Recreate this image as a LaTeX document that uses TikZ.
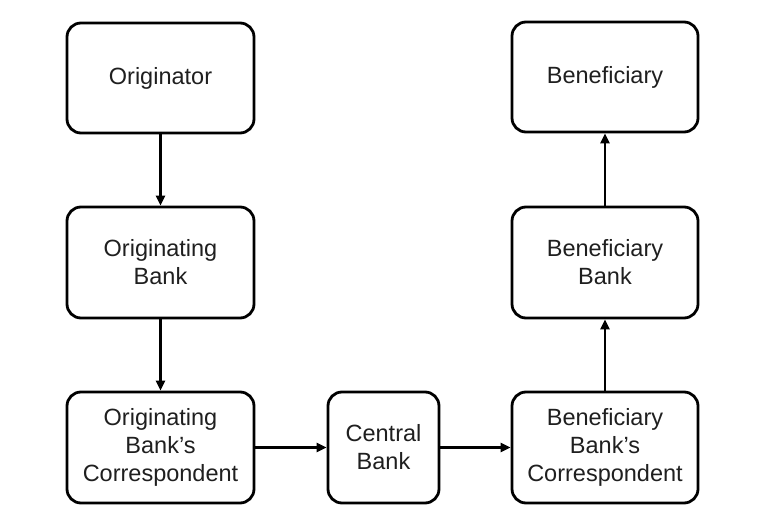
\documentclass[tikz,border=0pt]{standalone}
\usepackage{fontspec}
\setmainfont{Liberation Sans}
\usetikzlibrary{arrows.meta}
\begin{document}
\begin{tikzpicture}[x=1pt,y=1pt,
  box/.style={draw=black,line width=2.8pt,rounded corners=14pt,align=center,
    text=black!88,font=\fontsize{23.5}{28}\selectfont,inner sep=0pt},
  conn/.style={line width=2.4pt,-{Triangle[length=10pt,width=9pt]}}]
\useasboundingbox (0,0) rectangle (776,528);
\node[box,minimum width=187pt,minimum height=110pt] (orig) at (160.5,450) {Originator};
\node[box,minimum width=187pt,minimum height=111pt] (ob) at (160.5,265.5) {Originating\\Bank};
\node[box,minimum width=187pt,minimum height=111pt] (obc) at (160.5,80.5) {Originating\\Bank’s\\Correspondent};
\node[box,minimum width=111pt,minimum height=111pt] (cb) at (383.5,80.5) {Central\\Bank};
\node[box,minimum width=186pt,minimum height=111pt] (bbc) at (605,80.5) {Beneficiary\\Bank’s\\Correspondent};
\node[box,minimum width=186pt,minimum height=111pt] (bb) at (605,265.5) {Beneficiary\\Bank};
\node[box,minimum width=186pt,minimum height=110pt] (ben) at (605,451) {Beneficiary};
\draw[conn] (orig) -- (ob);
\draw[conn] (ob) -- (obc);
\draw[conn] (obc) -- (cb);
\draw[conn] (cb) -- (bbc);
\draw[conn] (bbc) -- (bb);
\draw[conn] (bb) -- (ben);
\end{tikzpicture}
\end{document}
